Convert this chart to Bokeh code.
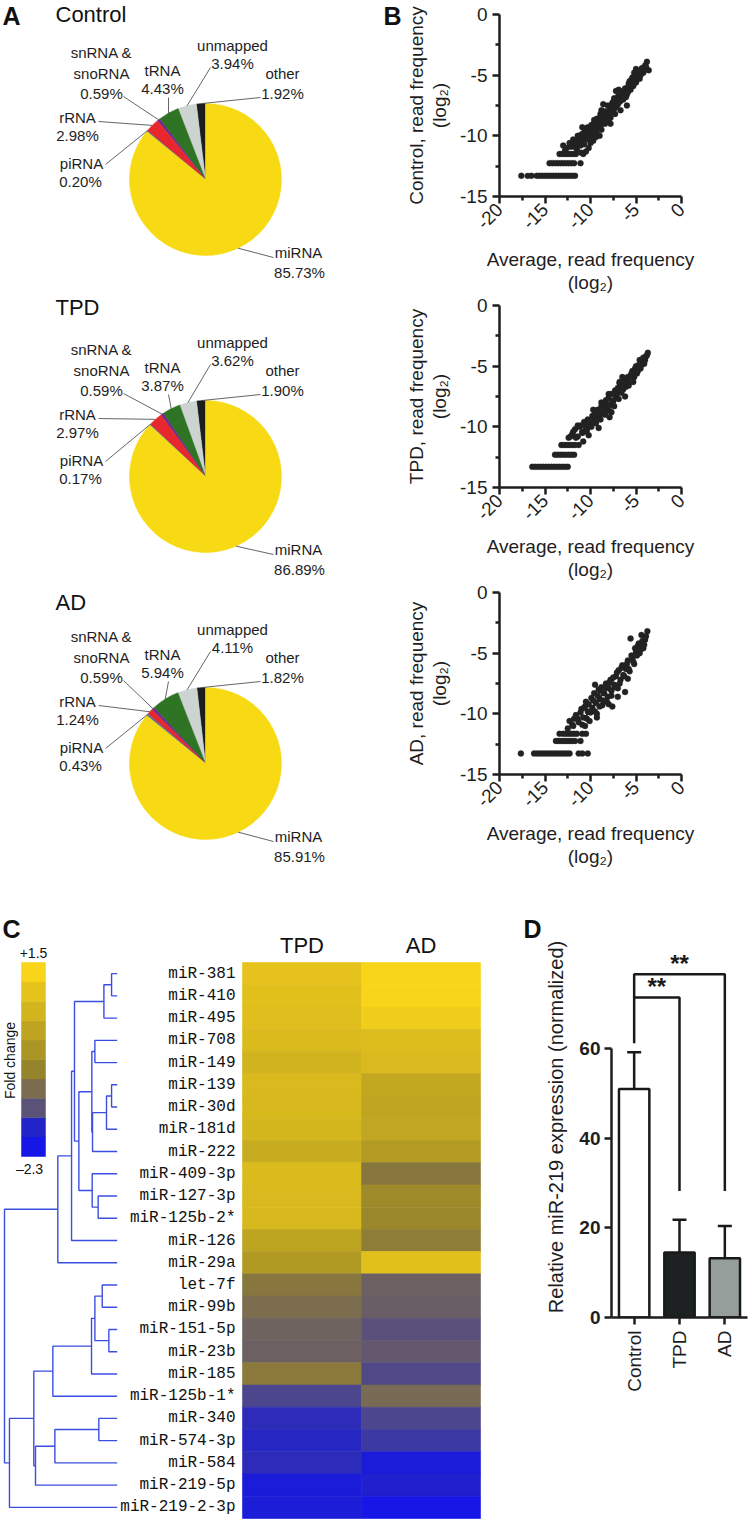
import math
import numpy as np
from bokeh.plotting import figure
from bokeh.layouts import row, column
from bokeh.models import (Range1d, FixedTicker, ColumnDataSource,
                          Whisker, TeeHead, LinearColorMapper)
from bokeh.transform import transform
from bokeh.core.properties import value
from bokeh.embed import file_html
from bokeh.resources import INLINE

SANS = "Liberation Sans"
MONO = "Liberation Mono"
INK = "#1e1e1e"

# ---------------- Panel A data ----------------
pie_categories = ["other", "unmapped", "tRNA", "snRNA & snoRNA", "rRNA", "piRNA", "miRNA"]
pie_control = [1.92, 3.94, 4.43, 0.59, 2.98, 0.20, 85.73]
pie_tpd = [1.90, 3.62, 3.87, 0.59, 2.97, 0.17, 86.89]
pie_ad = [1.82, 4.11, 5.94, 0.59, 1.24, 0.43, 85.91]
pie_colors = ["#1c1d1d", "#cdd3d1", "#2e7424", "#6b2d90", "#e8262d", "#5b6e9a", "#f7da14"]
pie_titles = ["Control", "TPD", "AD"]

# ---------------- Panel B data ----------------
x_ticks = [-20, -15, -10, -5, 0]
y_ticks = [-15, -10, -5, 0]

ctrl_x = [-17.6, -16.9, -16.5, -15.9, -15.6, -15.3, -15.0, -14.7, -14.4, -14.1, -13.8, -13.5, -13.2, -12.9, -12.6, -12.3, -12.0, -11.7,
          -14.5, -14.2, -13.9, -13.6, -13.3, -13.0, -12.7, -12.4, -12.1, -11.8, -11.1,
          -13.4, -13.1, -12.8, -12.5, -12.2, -11.9, -11.6, -10.8,
          -13.0, -12.6, -12.3, -11.9, -11.7, -11.4, -11.2, -11.0, -10.8, -10.6, -10.5, -10.4, -10.3, -10.1, -10.0,
          -9.9, -9.8, -9.6, -9.5, -9.4, -9.3, -9.2, -9.0, -8.9, -8.8, -8.7, -8.5, -8.4, -8.3, -8.1, -8.0, -7.9,
          -7.8, -7.6, -7.5, -7.4, -7.3, -7.1, -7.0, -6.8, -6.7, -6.5, -6.4, -6.2, -6.1, -5.9, -5.8, -5.6, -5.5,
          -5.3, -5.2, -5.0, -4.8, -4.6, -4.4, -4.2, -4.0, -3.8, -3.6, -9.7, -10.9, -8.6, -6.9, -11.5]
ctrl_y = [-13.3] * 18 + [-12.25] * 11 + [-11.5] * 8 + \
         [-10.8, -11.0, -10.6, -10.3, -10.9, -10.0, -10.6, -9.9, -10.4, -9.6, -11.3, -10.1, -9.3, -9.9, -10.6,
          -9.1, -9.7, -9.0, -9.5, -10.1, -8.6, -9.3, -8.9, -8.2, -9.5, -8.6, -8.0, -9.0, -8.4, -7.5, -8.8, -7.9,
          -8.5, -7.3, -8.0, -6.9, -8.2, -7.5, -6.8, -7.2, -7.9, -6.5, -7.0, -6.1, -6.8, -6.4, -5.7, -6.2, -5.4,
          -5.9, -4.8, -5.6, -4.9, -5.3, -4.5, -4.8, -4.2, -3.9, -4.6, -10.4, -9.3, -7.4, -6.2, -10.5]
ctrl_extra = [(-12.8, -11.2), (-12.1, -10.9), (-11.8, -10.6), (-11.5, -11.1), (-11.3, -10.3), (-11.1, -10.8),
              (-10.9, -10.1), (-10.7, -10.7), (-10.5, -9.9), (-10.2, -10.3), (-10.0, -9.5), (-9.8, -10.0),
              (-9.7, -9.3), (-9.5, -9.8), (-9.3, -9.6), (-9.1, -9.1), (-9.0, -8.5), (-8.9, -9.2), (-8.7, -8.9),
              (-8.6, -8.3), (-8.5, -8.7), (-8.3, -8.0), (-8.2, -8.6), (-8.0, -8.2), (-7.9, -7.6), (-7.7, -8.1),
              (-7.6, -7.8), (-7.5, -7.2), (-7.3, -7.7), (-7.2, -7.1), (-7.0, -7.4), (-6.9, -6.7), (-6.7, -7.1),
              (-6.6, -6.6), (-6.4, -6.3), (-6.3, -6.8), (-6.1, -6.1), (-6.0, -6.6), (-5.8, -6.0), (-5.7, -5.5),
              (-5.5, -5.9), (-5.4, -5.2), (-5.2, -5.6), (-5.1, -5.0), (-4.9, -5.3), (-4.7, -4.7), (-4.5, -5.0),
              (-4.3, -4.4), (-4.1, -4.6), (-3.9, -4.3), (-6.0, -7.5), (-7.8, -9.0), (-9.0, -10.0), (-10.2, -11.0),
              (-11.0, -11.4), (-8.8, -7.9), (-7.2, -6.3), (-5.0, -4.5), (-9.6, -8.7), (-10.8, -9.8)]
ctrl_fit_x = [-10.6, -3.8]
ctrl_fit_y = [-10.5, -4.0]

tpd_x = [-16.4, -16.1, -15.8, -15.5, -15.2, -14.9, -14.6, -14.3, -14.0, -13.7, -13.4, -13.1, -12.8, -12.5,
         -13.9, -13.6, -13.3, -13.0, -12.7, -12.4, -12.1, -11.8,
         -13.2, -12.9, -12.6, -12.3, -12.0, -11.7, -11.3,
         -12.4, -12.0, -11.7, -11.4, -11.1, -10.9, -10.7, -10.5, -10.3, -10.2, -10.0, -9.8, -9.7, -9.5, -9.3,
         -9.2, -9.0, -8.8, -8.7, -8.5, -8.3, -8.2, -8.0, -7.8, -7.7, -7.5, -7.3, -7.2, -7.0, -6.8, -6.6, -6.5,
         -6.3, -6.1, -5.9, -5.7, -5.5, -5.3, -5.1, -4.9, -4.7, -4.5, -4.3, -4.1, -3.9, -3.7, -9.1, -7.9, -6.2]
tpd_y = [-13.3] * 14 + [-12.3] * 8 + [-11.5] * 7 + \
        [-10.9, -10.6, -10.2, -10.8, -9.9, -10.4, -9.6, -10.1, -9.4, -10.7, -9.8, -9.1, -9.6, -8.8, -9.4,
         -8.6, -9.1, -8.3, -8.8, -8.1, -7.8, -8.6, -7.6, -8.2, -7.3, -7.9, -7.0, -7.6, -6.8, -6.4, -7.2, -6.6,
         -6.2, -6.7, -5.9, -6.3, -5.6, -5.9, -5.2, -5.6, -4.9, -5.2, -4.6, -4.8, -4.2, -3.9, -10.1, -9.2, -7.5]
tpd_extra = [(-12.2, -10.8), (-11.9, -10.4), (-11.6, -10.9), (-11.2, -10.0), (-10.9, -10.5), (-10.6, -9.8),
             (-10.4, -10.3), (-10.1, -9.5), (-9.9, -10.0), (-9.6, -9.2), (-9.4, -9.7), (-9.1, -8.9),
             (-8.9, -9.4), (-8.6, -8.5), (-8.4, -9.0), (-8.1, -8.2), (-7.9, -8.7), (-7.6, -7.9), (-7.4, -8.3),
             (-7.1, -7.3), (-6.9, -7.7), (-6.7, -7.0), (-6.4, -6.9), (-6.2, -6.5), (-6.0, -6.1), (-5.8, -6.6),
             (-5.6, -5.8), (-5.4, -5.4), (-5.2, -5.9), (-5.0, -5.0), (-4.8, -5.4), (-4.6, -4.5), (-4.4, -4.9),
             (-4.2, -4.3), (-4.0, -4.5), (-3.8, -4.1), (-9.7, -8.6), (-8.0, -7.3), (-6.5, -5.9), (-10.8, -11.2),
             (-7.7, -8.8), (-5.3, -6.3), (-11.4, -9.9), (-8.8, -8.0), (-6.8, -6.3)]
tpd_fit_x = [-10.6, -3.7]
tpd_fit_y = [-10.6, -4.0]

ad_x = [-17.65, -16.2, -15.9, -15.6, -15.3, -15.0, -14.7, -14.4, -14.1, -13.8, -13.5, -13.2, -12.9, -12.6, -12.3, -11.3, -10.9, -10.3,
        -13.8, -13.5, -13.2, -12.9, -12.6, -12.3, -12.0, -11.7, -11.1,
        -13.4, -13.0, -12.7, -12.4, -12.1, -11.8, -11.5, -10.9, -10.5,
        -12.5, -12.0, -11.6, -11.3, -11.0, -10.8, -10.5, -10.3, -10.1, -9.9, -9.8, -9.6, -9.4, -9.3, -9.1, -9.0,
        -8.8, -8.7, -8.5, -8.3, -8.2, -8.0, -7.8, -7.7, -7.6, -7.4, -7.2, -7.0, -6.9, -6.7, -6.5, -6.4, -6.2,
        -6.1, -5.9, -5.7, -5.6, -5.4, -5.2, -5.0, -4.8, -4.6, -4.4, -4.2, -4.0, -3.75, -9.5, -10.7, -11.8]
ad_y = [-13.27] * 18 + [-12.24] * 9 + [-11.65] * 9 + \
       [-11.2, -10.9, -10.1, -10.7, -9.6, -10.3, -9.0, -9.8, -10.6, -8.7, -9.5, -8.3, -9.1, -10.0, -8.0, -8.8,
        -7.8, -9.3, -8.3, -7.5, -9.0, -7.9, -7.2, -8.5, -9.4, -7.6, -6.9, -7.9, -6.4, -7.2, -6.0, -6.8, -8.2,
        -6.3, -5.6, -6.5, -3.8, -5.4, -5.9, -4.9, -4.4, -5.0, -4.3, -4.6, -3.9, -3.2, -7.6, -9.5, -10.4]
ad_extra = [(-12.3, -10.6), (-11.9, -11.0), (-11.4, -10.4), (-11.1, -9.9), (-10.9, -10.9), (-10.6, -9.4),
            (-10.4, -10.4), (-10.2, -9.2), (-10.0, -9.9), (-9.7, -8.9), (-9.5, -9.8), (-9.2, -8.5),
            (-9.0, -9.4), (-8.9, -8.1), (-8.6, -8.9), (-8.4, -7.8), (-8.1, -8.6), (-7.9, -7.4), (-7.7, -8.1),
            (-7.5, -7.0), (-7.3, -7.8), (-7.1, -6.6), (-6.8, -7.5), (-6.6, -6.2), (-6.3, -6.9), (-6.0, -5.9),
            (-5.8, -6.3), (-5.5, -5.2), (-5.3, -5.7), (-5.1, -4.6), (-4.9, -5.2), (-4.7, -4.2), (-4.5, -4.7),
            (-4.3, -4.0), (-4.1, -4.3), (-3.9, -3.6), (-9.3, -10.3), (-8.0, -9.2), (-7.0, -8.6), (-10.6, -11.0),
            (-5.9, -7.1), (-4.4, -3.5)]
ad_fit_x = [-10.6, -3.7]
ad_fit_y = [-10.3, -3.5]

# ---------------- Panel C data ----------------
mirnas = ["miR-381", "miR-410", "miR-495", "miR-708", "miR-149", "miR-139", "miR-30d", "miR-181d",
          "miR-222", "miR-409-3p", "miR-127-3p", "miR-125b-2*", "miR-126", "miR-29a", "let-7f",
          "miR-99b", "miR-151-5p", "miR-23b", "miR-185", "miR-125b-1*", "miR-340", "miR-574-3p",
          "miR-584", "miR-219-5p", "miR-219-2-3p"]
tpd_fc = [0.90, 0.85, 0.80, 0.70, 0.52, 0.68, 0.66, 0.58, 0.35, 0.70, 0.68, 0.66, 0.15, -0.10,
          -0.80, -0.95, -1.10, -1.15, -0.75, -1.45, -1.65, -1.70, -1.66, -1.95, -1.90]
ad_fc = [1.35, 1.32, 1.15, 0.75, 0.68, 0.25, 0.20, 0.22, -0.05, -0.80, -0.45, -0.50, -0.70, 0.85,
         -1.15, -1.18, -1.35, -1.25, -1.42, -1.00, -1.45, -1.55, -1.95, -1.80, -2.15]
heat_columns = ["TPD", "AD"]
fc_low, fc_high = -2.3, 1.5
cb_colors = ["#1616e6", "#2223c8", "#5b5278", "#7b6c50", "#96842c",
             "#ab9525", "#bea421", "#d2b41e", "#e6c31c", "#f8d51a"]
# (child a, child b, merge height); leaves 0..24, merged nodes numbered from 25
dend_merges = [(0, 1, 0.050), (25, 2, 0.118), (3, 4, 0.198), (5, 6, 0.050), (28, 7, 0.095),
               (29, 8, 0.219), (27, 30, 0.225), (10, 11, 0.169), (9, 32, 0.222), (31, 33, 0.340),
               (26, 34, 0.379), (35, 12, 0.405), (36, 13, 0.527), (14, 15, 0.133), (16, 17, 0.074),
               (38, 39, 0.198), (40, 18, 0.228), (41, 19, 0.571), (20, 21, 0.163), (43, 22, 0.553),
               (44, 23, 0.725), (42, 45, 0.740), (46, 24, 0.956), (37, 47, 1.000)]

# ---------------- Panel D data ----------------
d_groups = ["Control", "TPD", "AD"]
d_means = [51.0, 14.5, 13.2]
d_sd = [8.2, 7.3, 7.2]
d_colors = ["#ffffff", "#1e2121", "#959e9b"]
d_ticks = [0, 20, 40, 60]
sig_labels = ["**", "**"]


def clean(p):
    p.grid.visible = False
    p.outline_line_color = None
    p.background_fill_color = "white"
    p.border_fill_color = "white"
    return p


def txt(p, x, y, s, size, bold=False, align="center", angle=0.0, font=SANS, color=INK, **kw):
    p.text(x=x, y=y, text=s, text_font=value(font), text_font_size=size,
           text_font_style="bold" if bold else "normal", text_align=align,
           text_baseline="middle", angle=angle, text_color=color, **kw)


# ================= Panel A (pies) + letter B =================
HA, WA = 870, 402
pA = clean(figure(width=WA, height=HA, x_range=Range1d(0, WA), y_range=Range1d(0, HA),
                  x_axis_location=None, y_axis_location=None, min_border=0,
                  output_backend="svg", toolbar_location=None))
CX, R = 205, 76
pie_centers = [179, 476, 763]
title_pos = [14, 307, 602]
label_pos = {
    "other": [(77, -106), (77, -86)],
    "unmapped": [(27, -134), (27, -116)],
    "tRNA": [(-43, -109), (-43, -91)],
    "snRNA & snoRNA": [(-104, -127), (-104, -106), (-104, -86)],
    "rRNA": [(-128, -62), (-128, -44)],
    "piRNA": [(-124, -16), (-125, 2)],
    "miRNA": [(93, 73), (94, 93)],
}
leader_end = {"other": (55, -82), "unmapped": (5, -112), "tRNA": (-37, -82),
              "snRNA & snoRNA": (-82, -83), "rRNA": (-107, -58), "piRNA": (-100, -15),
              "miRNA": (68, 78)}

for title, vals, cyl, tyl in zip(pie_titles, [pie_control, pie_tpd, pie_ad], pie_centers, title_pos):
    cy = HA - cyl
    v = np.array(vals)
    frac = v / v.sum()
    ends = math.pi / 2 + 2 * math.pi * np.cumsum(frac)
    starts = ends - 2 * math.pi * frac
    pA.wedge(x=CX, y=cy, radius=R, start_angle=starts, end_angle=ends,
             fill_color=pie_colors, line_color=pie_colors, line_width=0.5)
    mids = (starts + ends) / 2
    x0s, y0s, x1s, y1s = [], [], [], []
    tx, ty, tt = [], [], []
    for cat, val, mid in zip(pie_categories, vals, mids):
        x0s.append(CX + R * math.cos(mid)); y0s.append(cy + R * math.sin(mid))
        ex, ey = leader_end[cat]
        x1s.append(CX + ex); y1s.append(cy - ey)
        lines = cat.replace(" snoRNA", "\nsnoRNA").split("\n") + [f"{val:.2f}%"]
        for t_, (dx, dy) in zip(lines, label_pos[cat]):
            tx.append(CX + dx); ty.append(cy - dy); tt.append(t_)
    pA.segment(x0=x0s, y0=y0s, x1=x1s, y1=y1s, line_color="#555555", line_width=0.9)
    txt(pA, tx, ty, tt, "15px")
    txt(pA, [55], [HA - tyl], [title], "22px", align="left", color="#111111")
txt(pA, [2, 383], [HA - 15, HA - 15], ["A", "B"], "25px", bold=True, align="left", color="#111111")


# ================= Panel B (scatter) =================
def style_axis(ax, size="19px"):
    ax.axis_line_width = 2.5
    ax.axis_line_color = INK
    ax.major_tick_line_width = 2.5
    ax.minor_tick_line_width = 2.5
    ax.major_tick_line_color = INK
    ax.minor_tick_line_color = INK
    ax.major_tick_in = 0
    ax.major_tick_out = 7
    ax.minor_tick_in = 0
    ax.minor_tick_out = 4
    ax.major_label_text_font = SANS
    ax.major_label_text_font_size = size
    ax.major_label_text_color = INK
    ax.axis_label_text_font = SANS
    ax.axis_label_text_font_size = "19px"
    ax.axis_label_text_font_style = "normal"
    ax.axis_label_text_color = INK
    ax.axis_label_text_line_height = 1.1


def make_scatter(xs, ys, extra, fx, fy, name, height, top, xstand):
    ex = [e[0] for e in extra]
    ey = [e[1] for e in extra]
    p = clean(figure(width=349, height=height, x_range=Range1d(-20, 0), y_range=Range1d(-15, 0),
                     min_border_left=93, min_border_right=70, min_border_top=top,
                     min_border_bottom=height - 185 - top, output_backend="svg", toolbar_location=None))
    style_axis(p.xaxis[0]); style_axis(p.yaxis[0])
    p.xaxis.ticker = FixedTicker(ticks=x_ticks, minor_ticks=[t + 2.5 for t in x_ticks[:-1]])
    p.yaxis.ticker = FixedTicker(ticks=y_ticks, minor_ticks=[t + 2.5 for t in y_ticks[:-1]])
    p.xaxis.major_label_overrides = {t: str(t) for t in x_ticks}
    p.yaxis.major_label_overrides = {t: str(t) for t in y_ticks}
    p.xaxis.major_label_orientation = math.pi / 4
    p.xaxis.major_label_standoff = 3
    p.yaxis.major_label_standoff = 5
    p.xaxis.axis_label = "Average, read frequency\n(log₂)"
    p.yaxis.axis_label = f"{name}, read frequency\n(log₂)"
    p.xaxis.axis_label_standoff = xstand
    p.yaxis.axis_label_standoff = 7
    p.scatter(list(xs) + ex, list(ys) + ey, size=6, fill_color="#222222", line_color="#222222",
              line_width=0.3)
    p.line(fx, fy, line_width=2, line_color="#222222")
    return p


s1 = make_scatter(ctrl_x, ctrl_y, ctrl_extra, ctrl_fit_x, ctrl_fit_y, "Control", 296, 14, 11)
s2 = make_scatter(tpd_x, tpd_y, tpd_extra, tpd_fit_x, tpd_fit_y, "TPD", 287, 9, 7)
s3 = make_scatter(ad_x, ad_y, ad_extra, ad_fit_x, ad_fit_y, "AD", 287, 9, 7)

# ================= Panel C (heatmap + dendrogram) + letter D =================
WC, HC = 542, 650
pC = clean(figure(width=WC, height=HC, x_range=Range1d(0, WC), y_range=Range1d(0, HC),
                  x_axis_location=None, y_axis_location=None, min_border=0,
                  output_backend="svg", toolbar_location=None))
pC.extra_x_ranges = {"dend": Range1d(1.0355, -3.7737), "cols": Range1d(-2.5336, 2.0210)}
pC.extra_y_ranges = {"rows": Range1d(24.59, -4.637), "cb": Range1d(-9.43, 3.302)}


def hex2rgb(h):
    return [int(h[i:i + 2], 16) for i in (1, 3, 5)]


cb_edges = np.linspace(fc_low, fc_high, len(cb_colors) + 1)
cb_mid = (cb_edges[:-1] + cb_edges[1:]) / 2
rgb = np.array([hex2rgb(c) for c in cb_colors], dtype=float)
heat_palette = []
for vv in np.linspace(fc_low, fc_high, 256):
    c = [int(round(np.interp(vv, cb_mid, rgb[:, k]))) for k in range(3)]
    heat_palette.append("#%02x%02x%02x" % tuple(c))
mapper = LinearColorMapper(palette=heat_palette, low=fc_low, high=fc_high)

n = len(mirnas)
hm = ColumnDataSource(dict(col=[0] * n + [1] * n, row=list(range(n)) * 2, fc=tpd_fc + ad_fc))
pC.rect(x="col", y="row", width=1, height=1, source=hm, fill_color=transform("fc", mapper),
        line_color=transform("fc", mapper), line_width=0.6, x_range_name="cols", y_range_name="rows")

node_y = {i: float(i) for i in range(n)}
node_h = {i: 0.0 for i in range(n)}
dxs, dys = [], []
for k, (a, b, h) in enumerate(dend_merges):
    ya, yb = node_y[a], node_y[b]
    dxs.append([node_h[a], h, h, node_h[b]])
    dys.append([ya, ya, yb, yb])
    node_y[n + k] = (ya + yb) / 2
    node_h[n + k] = h
pC.multi_line(dxs, dys, x_range_name="dend", y_range_name="rows", line_color="#3b4ee2", line_width=1.4)

txt(pC, [235] * n, list(range(n)), mirnas, "16px", align="right", font=MONO, color="#111111",
    y_range_name="rows")
txt(pC, [0, 1], [575, 575], heat_columns, "22px", color="#111111", x_range_name="cols")

pC.quad(left=21, right=45, bottom=cb_edges[:-1], top=cb_edges[1:], fill_color=cb_colors,
        line_color=cb_colors, line_width=0.5, y_range_name="cb")
txt(pC, [33, 29], [568, 352], [f"+{fc_high}", f"–{abs(fc_low)}"], "14px", color="#111111")
txt(pC, [9], [460], ["Fold change"], "14px", angle=math.pi / 2, color="#111111")
txt(pC, [2, 523], [592, 592], ["C", "D"], "25px", bold=True, align="left", color="#111111")

# ================= Panel D (bars) =================
d_pos = [i + 0.5 for i in range(len(d_groups))]
pD = clean(figure(width=209, height=650, x_range=Range1d(0, len(d_groups)), y_range=Range1d(0, 85),
                  min_border_left=66, min_border_right=4, min_border_top=66, min_border_bottom=203,
                  output_backend="svg", toolbar_location=None))
style_axis(pD.xaxis[0]); style_axis(pD.yaxis[0])
pD.yaxis.ticker = FixedTicker(ticks=d_ticks, minor_ticks=[])
pD.yaxis.bounds = (0, 60)
pD.yaxis.major_label_text_font_style = "bold"
pD.yaxis.major_label_standoff = 4
pD.yaxis.axis_label = "Relative miR-219 expression (normalized)"
pD.yaxis.axis_label_text_font_size = "20px"
pD.yaxis.axis_label_standoff = 9
pD.xaxis.ticker = FixedTicker(ticks=d_pos, minor_ticks=[])
pD.xaxis.major_label_overrides = {p_: g for p_, g in zip(d_pos, d_groups)}
pD.xaxis.major_label_orientation = math.pi / 2
pD.xaxis.major_label_standoff = 6
pD.vbar(x=d_pos, top=d_means, width=0.67, bottom=0, fill_color=d_colors,
        line_color="#1a1a1a", line_width=2.5)
wsrc = ColumnDataSource(dict(x=d_pos, lower=d_means, upper=[m + s for m, s in zip(d_means, d_sd)]))
pD.add_layout(Whisker(base="x", lower="lower", upper="upper", source=wsrc, dimension="height",
                      line_width=2.5, line_color="#1a1a1a", lower_head=None,
                      upper_head=TeeHead(size=14, line_width=2.5, line_color="#1a1a1a")))
top_err = d_means[0] + d_sd[0]
inner_h, outer_h, drop_h = top_err + 12.2, top_err + 17.4, 28.2
pD.line(x=[d_pos[0], d_pos[0], d_pos[2], d_pos[2]], y=[top_err + 2.0, outer_h, outer_h, drop_h],
        line_color="#1a1a1a", line_width=2.5)
pD.line(x=[d_pos[0], d_pos[1], d_pos[1]], y=[inner_h, inner_h, drop_h],
        line_color="#1a1a1a", line_width=2.5)
txt(pD, [(d_pos[0] + d_pos[1]) / 2, (d_pos[0] + d_pos[2]) / 2], [inner_h + 2.4, outer_h + 2.4],
    sig_labels, "24px", bold=True, color="#1a1a1a")

layout = column(row(column(pA), column(s1, s2, s3)), row(column(pC), column(pD)))
open("out.html", "w").write(file_html(layout, INLINE, title="miRNA figure"))
